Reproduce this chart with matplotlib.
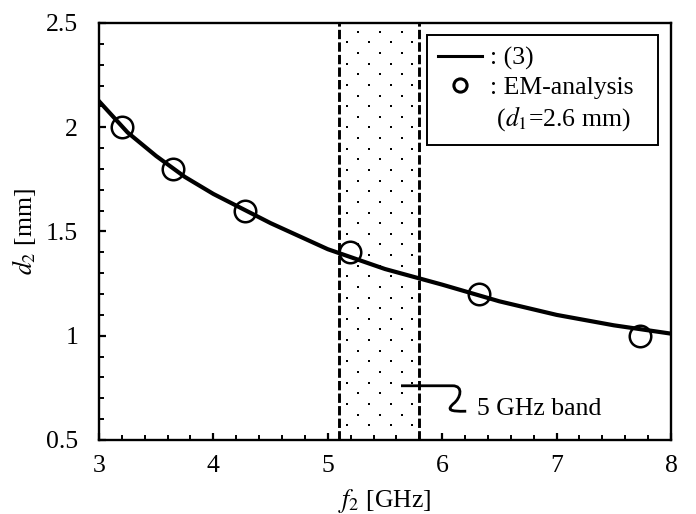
import numpy as np
import matplotlib
matplotlib.use("Agg")
import matplotlib.pyplot as plt
from matplotlib.path import Path
from matplotlib.patches import PathPatch
from matplotlib.lines import Line2D

plt.rcParams['font.family'] = ['Liberation Serif', 'DejaVu Serif']
plt.rcParams['mathtext.fontset'] = 'stix'
plt.rcParams['font.size'] = 18.5

# curve of eq. (3)
f_curve = [3.0, 3.25, 3.5, 3.75, 4.0, 4.5, 5.0, 5.5, 6.0, 6.5, 7.0, 7.5, 8.0]
d_curve = [2.125, 1.975, 1.862, 1.762, 1.68, 1.54, 1.415, 1.32, 1.245, 1.165, 1.10, 1.05, 1.01]

# EM-analysis points
f_em = [3.2, 3.65, 4.28, 5.19, 6.32, 7.73]
d_em = [2.0, 1.8, 1.6, 1.4, 1.2, 1.0]

band = [5.1, 5.8]  # 5 GHz band edges

fig = plt.figure(figsize=(6.96, 5.14), dpi=100)
ax = fig.add_axes([0.1422, 0.144, 0.8219, 0.8113])

# dotted band
ax.axvline(band[0], color='black', lw=2.1, ls=(0, (3.2, 1.1)), zorder=2)
ax.axvline(band[1], color='black', lw=2.1, ls=(0, (3.2, 1.1)), zorder=2)
dot_x = []
dot_y = []
rows = np.arange(2.458, 0.54, -0.051)
for i, yy in enumerate(rows):
    if i % 2 == 0:
        xs = 5.265 + 0.19 * np.arange(3)
    else:
        xs = 5.17 + 0.19 * np.arange(4)
    dot_x.extend(xs)
    dot_y.extend([yy] * len(xs))
ax.scatter(dot_x, dot_y, s=3.5, color='black', marker='s', linewidths=0, zorder=1)

ax.plot(f_curve, d_curve, color='black', lw=3, zorder=3)
ax.plot(f_em, d_em, ls='none', marker='o', ms=15.5, mfc='none', mec='black', mew=1.8, zorder=4)

# connector for the band label
verts = [(5.64, 0.76), (6.09, 0.76),
         (6.19, 0.76), (6.16, 0.70), (6.10, 0.675),
         (6.04, 0.645), (6.06, 0.636), (6.21, 0.638)]
codes = [Path.MOVETO, Path.LINETO,
         Path.CURVE4, Path.CURVE4, Path.CURVE4,
         Path.CURVE4, Path.CURVE4, Path.CURVE4]
ax.add_patch(PathPatch(Path(verts, codes), fill=False, lw=2, color='black', zorder=5))
ax.text(6.30, 0.648, '5 GHz band', va='center', ha='left', fontsize=18.5)

ax.set_xlim(3, 8)
ax.set_ylim(0.5, 2.5)
ax.set_xticks([3, 4, 5, 6, 7, 8])
ax.set_yticks([0.5, 1, 1.5, 2, 2.5])
ax.set_yticklabels(['0.5', '1', '1.5', '2', '2.5'])
ax.set_xticks(np.arange(3, 8.01, 0.2), minor=True)
ax.set_yticks(np.arange(0.5, 2.51, 0.1), minor=True)
ax.tick_params(which='major', direction='in', length=5, width=1.6, pad=11, labelsize=18.5)
ax.tick_params(axis='y', which='major', pad=15)
ax.tick_params(which='minor', direction='in', length=3.5, width=1.4)
for s in ax.spines.values():
    s.set_linewidth(1.7)

ax.set_xlabel('$f_2$ [GHz]', fontsize=18.5, labelpad=7)
ax.set_ylabel('$d_2$ [mm]', fontsize=18.5, labelpad=6)

h1 = Line2D([], [], color='black', lw=2.2)
h2 = Line2D([], [], ls='none', marker='o', ms=9.5, mfc='none', mec='black', mew=2.2)
h3 = Line2D([], [], ls='none')
leg = ax.legend([h1, h2, h3], [': (3)', ': EM-analysis  ', ' ($d_1$=2.6 mm)'],
                loc='upper right', bbox_to_anchor=(0.977, 0.971), borderaxespad=0,
                fancybox=False, framealpha=1, edgecolor='black', fontsize=18.5,
                handlelength=1.7, handletextpad=0.3, labelspacing=0.22,
                borderpad=0.45)
leg.get_frame().set_linewidth(1.4)

fig.savefig('out.png', dpi=100)
